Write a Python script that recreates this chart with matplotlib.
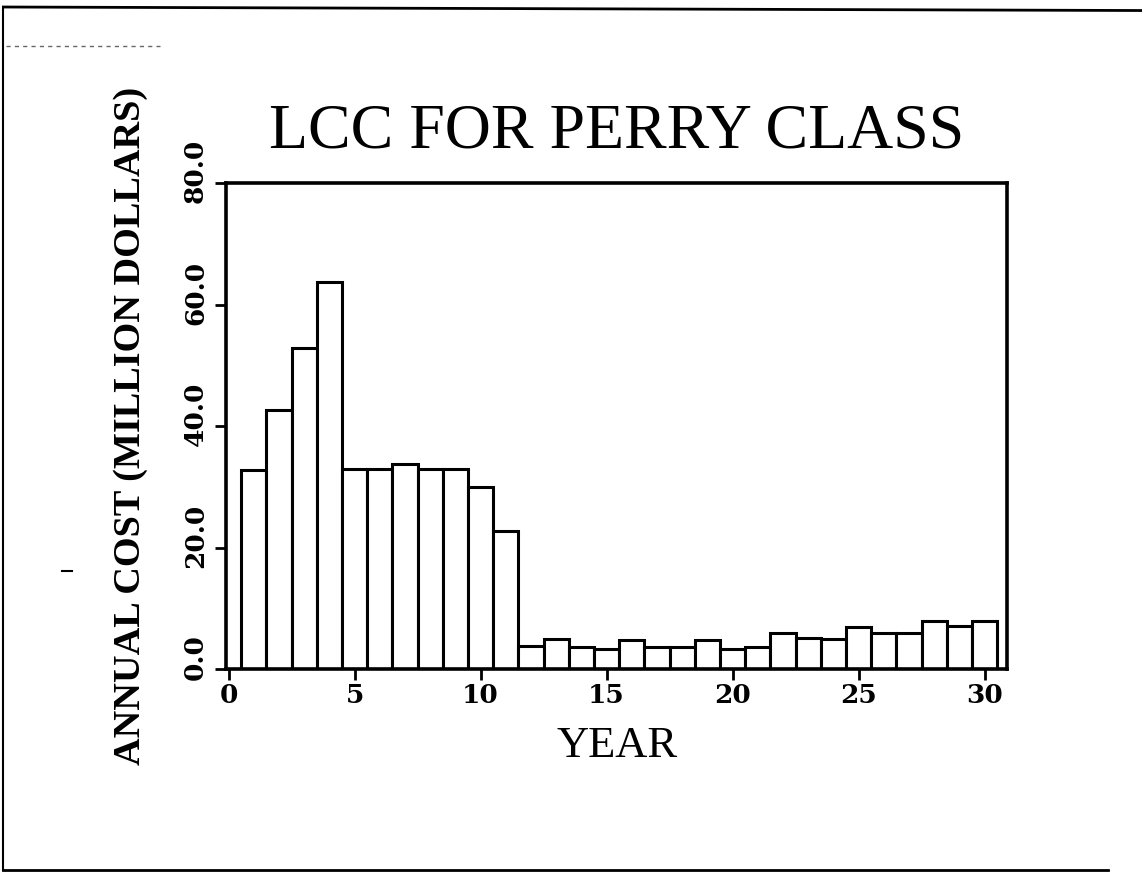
import matplotlib
matplotlib.use('Agg')
import matplotlib.pyplot as plt
from matplotlib.transforms import ScaledTranslation

# data
years = list(range(1, 31))
cost = [32.8, 42.7, 52.8, 63.8, 33.0, 33.0, 33.8, 32.9, 32.9, 30.0,
        22.7, 3.8, 5.0, 3.7, 3.4, 4.8, 3.6, 3.6, 4.8, 3.4,
        3.7, 6.0, 5.1, 4.9, 7.0, 6.0, 6.0, 8.0, 7.1, 7.9]
xticks = [0, 5, 10, 15, 20, 25, 30]
yticks = [0, 20, 40, 60, 80]
ytick_labels = ['0.0', '20.0', '40.0', '60.0', '80.0']

plt.rcParams['font.family'] = ['Liberation Serif', 'DejaVu Serif']
tick_font = {'family': 'DejaVu Serif', 'size': 19, 'weight': 'bold'}

fig = plt.figure(figsize=(11.42, 8.77), dpi=100)
ax = fig.add_axes([0.198, 0.237, 0.684, 0.554])

ax.bar(years, cost, width=1.0, color='white', edgecolor='black', linewidth=2.2)

ax.set_xlim(-0.1, 30.9)
ax.set_ylim(0, 80)
ax.tick_params(axis='x', direction='out', length=8, width=2, pad=2)
ax.tick_params(axis='y', direction='out', length=8, width=2, pad=5)
ax.set_xticks(xticks)
ax.set_yticks(yticks)
ax.set_xticklabels([str(t) for t in xticks], fontdict=tick_font)
ax.set_yticklabels(ytick_labels, fontdict=tick_font, rotation=90, va='center')
# labels on the scan sit a bit above their ticks
for lab in ax.get_yticklabels():
    lab.set_transform(lab.get_transform() + ScaledTranslation(0, 12 / 100, fig.dpi_scale_trans))

for sp in ax.spines.values():
    sp.set_linewidth(2.6)

ax.text(0.5, 1.105, 'LCC FOR PERRY CLASS', transform=ax.transAxes,
        ha='center', va='center', fontsize=46)
ax.set_xlabel('YEAR', fontsize=32)
ax.xaxis.set_label_coords(0.5, -0.158)
ax.xaxis.label.set_verticalalignment('center')
ax.set_ylabel('ANNUAL COST (MILLION DOLLARS)', fontsize=27.5, fontweight='bold')
ax.yaxis.set_label_coords(-0.123, 0.5)
ax.yaxis.label.set_verticalalignment('center')

# page frame from the scan
fig.add_artist(plt.Line2D([0.003, 0.003], [0.008, 0.992], color='black', lw=1.5, transform=fig.transFigure))
fig.add_artist(plt.Line2D([0.003, 1.0], [0.992, 0.988], color='black', lw=2.0, transform=fig.transFigure))
fig.add_artist(plt.Line2D([0.003, 0.97], [0.008, 0.008], color='black', lw=2.0, transform=fig.transFigure))
fig.add_artist(plt.Line2D([0.005, 0.14], [0.947, 0.947], color='black', lw=1.0, ls=(0, (3, 3)),
                          alpha=0.6, transform=fig.transFigure))
fig.add_artist(plt.Line2D([0.054, 0.063], [0.349, 0.349], color='black', lw=1.5, transform=fig.transFigure))

fig.savefig('out.png', dpi=100)
